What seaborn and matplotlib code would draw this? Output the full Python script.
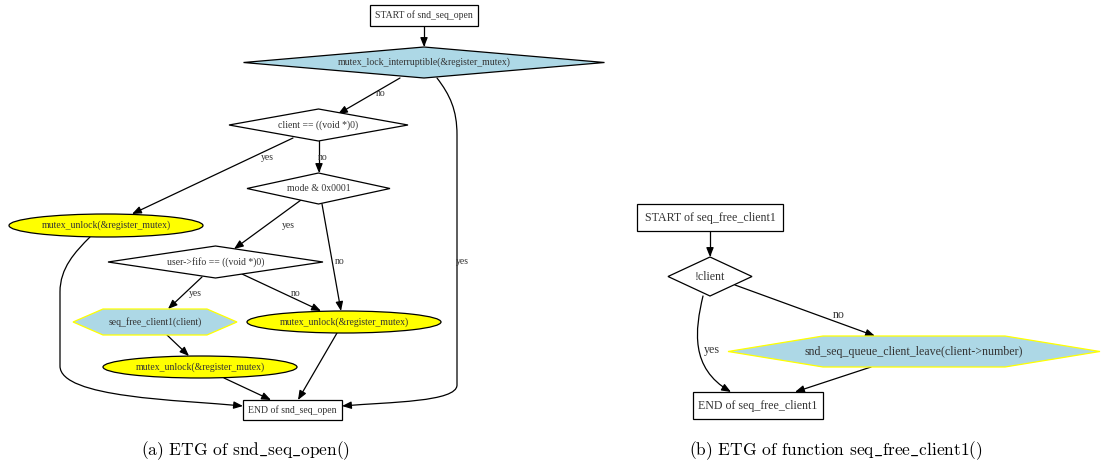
import matplotlib
matplotlib.use("Agg")
import matplotlib.pyplot as plt
import seaborn as sns
from matplotlib.patches import Rectangle, Ellipse, Polygon, FancyArrowPatch
from matplotlib.path import Path

sns.set_theme(style="white")
plt.rcParams['font.family'] = ['Liberation Serif', 'DejaVu Serif']
plt.rcParams['mathtext.fontset'] = 'cm'

# ---------------- data ----------------
# graph (a): nodes (id, label, kind)
nodes_a = ["start", "lock", "client", "mode", "unlock1", "fifo", "free", "unlock2", "unlock3", "end"]
labels_a = ["START of snd_seq_open", "mutex_lock_interruptible(&register_mutex)",
            "client == ((void *)0)", "mode & 0x0001", "mutex_unlock(&register_mutex)",
            "user->fifo == ((void *)0)", "seq_free_client1(client)",
            "mutex_unlock(&register_mutex)", "mutex_unlock(&register_mutex)", "END of snd_seq_open"]
kinds_a = ["box", "cdiamond", "diamond", "diamond", "ellipse", "diamond", "hexagon",
           "ellipse", "ellipse", "box"]
edges_a = [("start", "lock", ""), ("lock", "client", "no"), ("lock", "end", "yes"),
           ("client", "unlock1", "yes"), ("client", "mode", "no"),
           ("mode", "fifo", "yes"), ("mode", "unlock2", "no"),
           ("fifo", "free", "yes"), ("fifo", "unlock2", "no"),
           ("free", "unlock3", ""), ("unlock1", "end", ""), ("unlock2", "end", ""),
           ("unlock3", "end", "")]

# graph (b)
nodes_b = ["start", "cond", "leave", "end"]
labels_b = ["START of seq_free_client1", "!client",
            "snd_seq_queue_client_leave(client->number)", "END of seq_free_client1"]
kinds_b = ["box", "diamond", "hexagon", "box"]
edges_b = [("start", "cond", ""), ("cond", "leave", "no"), ("cond", "end", "yes"),
           ("leave", "end", "")]

captions = [r"(a) ETG of snd$\_$seq$\_$open()", r"(b) ETG of function seq$\_$free$\_$client1()"]

# ---------------- layout (pixel geometry) ----------------
# center x, center y, width, height
geom_a = {
    "start": (424, 15.5, 108, 21),
    "lock": (424, 62.5, 361, 31),
    "client": (318.5, 125, 179, 32),
    "mode": (318.5, 188.5, 143, 31),
    "unlock1": (106, 225.5, 194, 23),
    "fifo": (215.5, 262, 215, 32),
    "free": (155, 322, 164, 26),
    "unlock2": (344, 322, 194, 22),
    "unlock3": (200, 367, 194, 22),
    "end": (292.5, 410, 99, 20),
}
geom_b = {
    "start": (710, 217.5, 146, 27),
    "cond": (710, 276.5, 84, 39),
    "leave": (914, 351.5, 372, 31),
    "end": (758, 405.5, 130, 27),
}
hex_inset = {"free": 30, "leave": 95}

routes_a = {
    ("start", "lock"): [(424, 26), (424, 47)],
    ("lock", "client"): [(400, 78), (338, 114)],
    ("client", "unlock1"): [(293, 138), (132, 214)],
    ("client", "mode"): [(319, 141), (319, 173)],
    ("mode", "fifo"): [(301, 200), (234, 249)],
    ("mode", "unlock2"): [(322, 204), (341, 311)],
    ("fifo", "free"): [(202, 277), (168, 309)],
    ("fifo", "unlock2"): [(242, 274), (321, 311)],
    ("free", "unlock3"): [(167, 335), (189, 356)],
    ("unlock2", "end"): [(337, 333), (298, 400)],
    ("unlock3", "end"): [(224, 378), (271, 400)],
    ("lock", "end"): ("curve", [(437, 78), (450, 95), (457, 110), (457, 135),
                                 (457, 385), (457, 402), (390, 402), (342, 406)],
                      [Path.MOVETO, Path.CURVE4, Path.CURVE4, Path.CURVE4,
                       Path.LINETO, Path.CURVE4, Path.CURVE4, Path.CURVE4]),
    ("unlock1", "end"): ("curve", [(90, 237), (75, 252), (60, 268), (60, 292),
                                    (60, 366), (60, 398), (180, 400), (243, 406)],
                         [Path.MOVETO, Path.CURVE4, Path.CURVE4, Path.CURVE4,
                          Path.LINETO, Path.CURVE4, Path.CURVE4, Path.CURVE4]),
}
routes_b = {
    ("start", "cond"): [(710, 231), (710, 257)],
    ("cond", "leave"): [(735, 285), (875, 336)],
    ("leave", "end"): [(871, 367), (795, 392)],
    ("cond", "end"): ("curve", [(703, 296), (695, 330), (690, 368), (731, 392)],
                      [Path.MOVETO, Path.CURVE4, Path.CURVE4, Path.CURVE4]),
}
label_pos_a = {("lock", "client"): (381, 93), ("lock", "end"): (462, 262),
               ("client", "unlock1"): (267, 157), ("client", "mode"): (323, 157),
               ("mode", "fifo"): (288, 225), ("mode", "unlock2"): (340, 262),
               ("fifo", "free"): (195, 293), ("fifo", "unlock2"): (296, 293)}
label_pos_b = {("cond", "leave"): (839, 315), ("cond", "end"): (712, 350)}

fills = {"box": "white", "diamond": "white", "cdiamond": "#add8e6",
         "ellipse": "#ffff00", "hexagon": "#add8e6"}
edgecols = {"box": "black", "diamond": "black", "cdiamond": "black",
            "ellipse": "black", "hexagon": "#ffff00"}

fig = plt.figure(figsize=(11.01, 4.71), dpi=100)
ax = fig.add_axes([0, 0, 1, 1])
ax.set_xlim(0, 1101)
ax.set_ylim(471, 0)
ax.axis("off")


def draw_node(key, label, kind, g, fs):
    cx, cy, w, h = g
    fc, ec = fills[kind], edgecols[kind]
    if kind == "box":
        p = Rectangle((cx - w / 2, cy - h / 2), w, h, fc=fc, ec=ec, lw=0.9)
    elif kind in ("diamond", "cdiamond"):
        p = Polygon([(cx - w / 2, cy), (cx, cy - h / 2), (cx + w / 2, cy), (cx, cy + h / 2)],
                    closed=True, fc=fc, ec=ec, lw=0.9)
    elif kind == "ellipse":
        p = Ellipse((cx, cy), w, h, fc=fc, ec=ec, lw=0.9)
    else:
        d = hex_inset[key]
        p = Polygon([(cx - w / 2, cy), (cx - w / 2 + d, cy - h / 2), (cx + w / 2 - d, cy - h / 2),
                     (cx + w / 2, cy), (cx + w / 2 - d, cy + h / 2), (cx - w / 2 + d, cy + h / 2)],
                    closed=True, fc=fc, ec=ec, lw=0.9)
    p.set_zorder(2)
    ax.add_patch(p)
    ax.text(cx, cy, label, ha="center", va="center", fontsize=fs, color="#333333",
            zorder=3)


def draw_edge(route):
    if isinstance(route, tuple) and route[0] == "curve":
        path = Path(route[1], route[2])
    else:
        path = Path(route, [Path.MOVETO, Path.LINETO])
    a = FancyArrowPatch(path=path, arrowstyle="-|>,head_length=0.55,head_width=0.22",
                        mutation_scale=10, color="black", lw=0.9, zorder=1,
                        shrinkA=0, shrinkB=0)
    ax.add_patch(a)


for nodes, labels, kinds, geom, edges, routes, lpos, fs in [
        (nodes_a, labels_a, kinds_a, geom_a, edges_a, routes_a, label_pos_a, 7.0),
        (nodes_b, labels_b, kinds_b, geom_b, edges_b, routes_b, label_pos_b, 8.6)]:
    for k, lab, kind in zip(nodes, labels, kinds):
        draw_node(k, lab, kind, geom[k], fs)
    for s, t, lab in edges:
        draw_edge(routes[(s, t)])
        if lab:
            x, y = lpos[(s, t)]
            ax.text(x, y, lab, ha="center", va="center", fontsize=fs, color="#333333")

cap_pos = [(246, 451), (836, 451)]
for (x, y), c in zip(cap_pos, captions):
    ax.text(x, y, c, ha="center", va="center", fontsize=12.5, color="black",
            family=["cmr10", "Liberation Serif", "DejaVu Serif"])

fig.savefig("out.png", dpi=100)
